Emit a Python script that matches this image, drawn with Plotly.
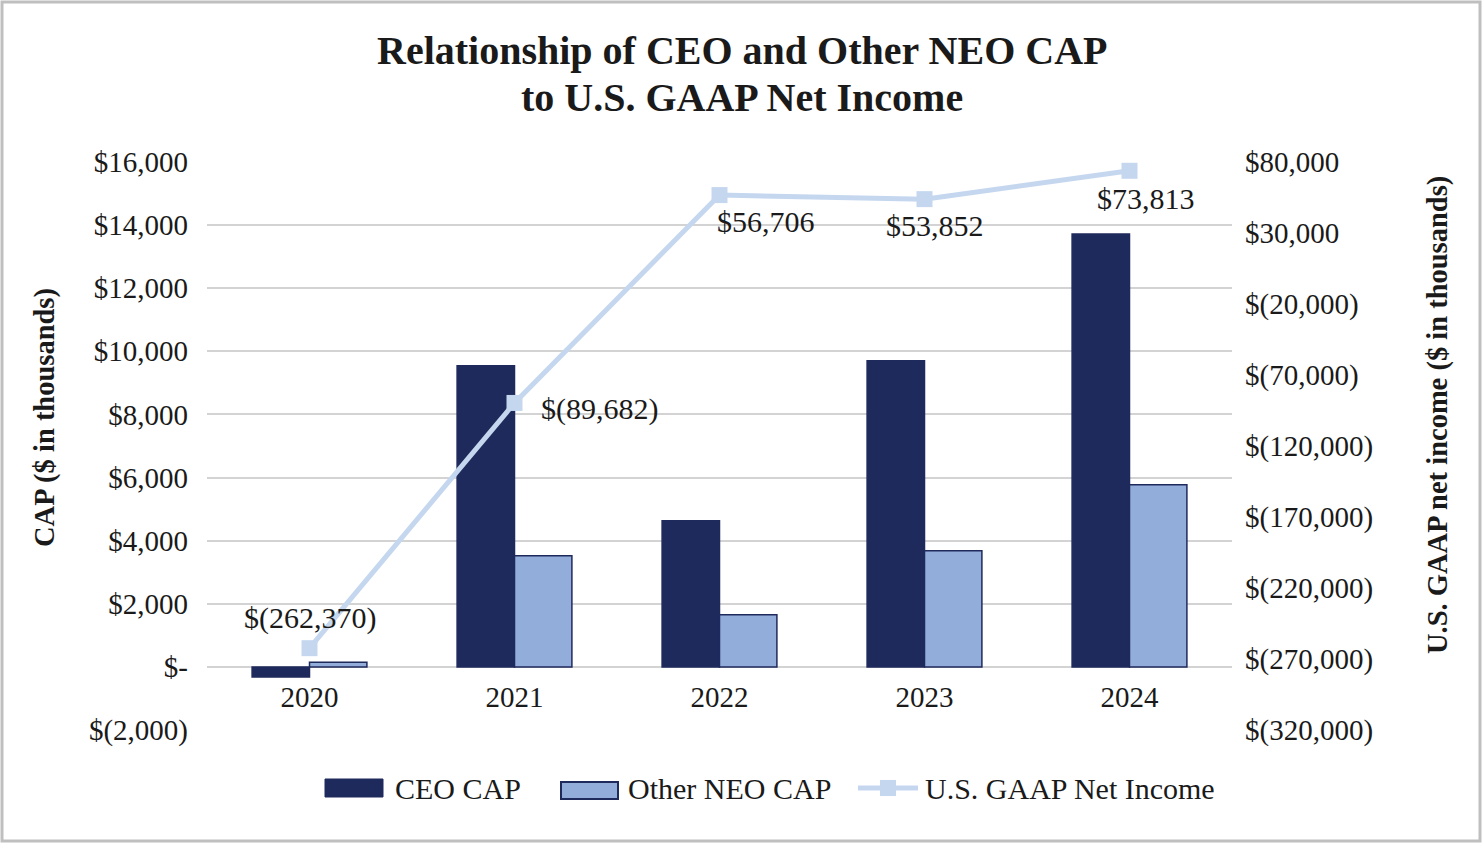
import plotly.graph_objects as go

years = ["2020", "2021", "2022", "2023", "2024"]
ceo_cap = [-320, 9540, 4630, 9700, 13720]
neo_cap = [150, 3520, 1650, 3680, 5770]
net_income = [-262370, -89682, 56706, 53852, 73813]
net_income_labels = ["$(262,370)", "$(89,682)", "$56,706", "$53,852", "$73,813"]
series_names = ["CEO CAP", "Other NEO CAP", "U.S. GAAP Net Income"]

left_ticks = [-2000, 0, 2000, 4000, 6000, 8000, 10000, 12000, 14000, 16000]
left_text = ["$(2,000)", "$-", "$2,000", "$4,000", "$6,000", "$8,000",
             "$10,000", "$12,000", "$14,000", "$16,000"]
right_ticks = [-320000, -270000, -220000, -170000, -120000, -70000, -20000, 30000, 80000]
right_text = ["$(320,000)", "$(270,000)", "$(220,000)", "$(170,000)", "$(120,000)",
              "$(70,000)", "$(20,000)", "$30,000", "$80,000"]

FONT = "Liberation Serif"
NAVY = "#1F2A5C"
MID = "#93ADDA"
LIGHT = "#C5D7EF"
TXT = "#1A1A1A"

# plot area in page pixels
PL, PR, PT, PB = 207, 1232, 162, 730
PW, PH = PR - PL, PB - PT


def px(x):
    return (x - PL) / PW


def py(y):
    return (PB - y) / PH


fig = go.Figure()
fig.add_trace(go.Bar(x=years, y=ceo_cap, name=series_names[0], showlegend=False,
                     marker=dict(color=NAVY, line=dict(color=NAVY, width=1.5))))
fig.add_trace(go.Bar(x=years, y=neo_cap, name=series_names[1], showlegend=False,
                     marker=dict(color=MID, line=dict(color=NAVY, width=1.5))))
fig.add_trace(go.Scatter(x=years, y=net_income, name=series_names[2], yaxis="y2",
                         mode="lines+markers", showlegend=False,
                         line=dict(color=LIGHT, width=5),
                         marker=dict(symbol="square", size=16, color=LIGHT)))

label_shifts = [(0, 30), (85, -6), (46, -26), (10, -26), (16, -28)]
for i, (v, t, (dx, dy)) in enumerate(zip(net_income, net_income_labels, label_shifts)):
    fig.add_annotation(x=i, y=v, xref="x", yref="y2", text=t, showarrow=False,
                       xshift=dx, yshift=dy, font=dict(family=FONT, size=30, color=TXT))

# title (two lines)
fig.add_annotation(x=px(742), y=py(50), xref="paper", yref="paper",
                   text="<b>Relationship of CEO and Other NEO CAP</b>",
                   showarrow=False, xanchor="center", yanchor="middle",
                   font=dict(family=FONT, size=40, color=TXT))
fig.add_annotation(x=px(742), y=py(98), xref="paper", yref="paper",
                   text="<b>to U.S. GAAP Net Income</b>",
                   showarrow=False, xanchor="center", yanchor="middle",
                   font=dict(family=FONT, size=40, color=TXT))
# axis titles
fig.add_annotation(x=px(45), y=py(418), xref="paper", yref="paper",
                   text="<b>CAP ($ in thousands)</b>", xanchor="center", yanchor="middle",
                   textangle=-90, showarrow=False, font=dict(family=FONT, size=28.5, color=TXT))
fig.add_annotation(x=px(1438), y=py(415), xref="paper", yref="paper",
                   text="<b>U.S. GAAP net income ($ in thousands)</b>",
                   xanchor="center", yanchor="middle",
                   textangle=-90, showarrow=False, font=dict(family=FONT, size=28.5, color=TXT))

# legend (drawn manually to match wide symbols)
legend_text_x = [393, 626, 923]
for name, lx in zip(series_names, legend_text_x):
    fig.add_annotation(x=px(lx), y=py(788), xref="paper", yref="paper", text=name,
                       xanchor="left", yanchor="middle", showarrow=False,
                       font=dict(family=FONT, size=30, color=TXT))

shapes = [
    dict(type="rect", xref="paper", yref="paper",
         x0=px(2), x1=px(1480), y0=py(841), y1=py(2),
         line=dict(color="#BFBFBF", width=3), fillcolor="rgba(0,0,0,0)", layer="below"),
    dict(type="rect", xref="paper", yref="paper", x0=px(325), x1=px(383), y0=py(797), y1=py(779),
         line=dict(color=NAVY, width=1), fillcolor=NAVY),
    dict(type="rect", xref="paper", yref="paper", x0=px(561), x1=px(618), y0=py(799), y1=py(782),
         line=dict(color=NAVY, width=2), fillcolor=MID),
    dict(type="line", xref="paper", yref="paper", x0=px(858), x1=px(918), y0=py(788), y1=py(788),
         line=dict(color=LIGHT, width=5)),
    dict(type="rect", xref="paper", yref="paper", x0=px(880), x1=px(896), y0=py(796), y1=py(780),
         line=dict(color=LIGHT, width=0), fillcolor=LIGHT),
]

fig.update_layout(
    width=1483, height=843,
    margin=dict(l=PL, r=1483 - PR, t=PT, b=843 - PB),
    paper_bgcolor="white", plot_bgcolor="white",
    font=dict(family=FONT, size=29, color=TXT),
    barmode="group", bargap=0.44, bargroupgap=0,
    showlegend=False,
    xaxis=dict(type="category", range=[-0.5, 4.5], anchor="free", position=py(667),
               showline=False, ticks="", showgrid=False, tickfont=dict(size=29),
               ticklabelstandoff=10),
    yaxis=dict(range=[-2000, 16000], tickvals=left_ticks, ticktext=left_text,
               showgrid=True, gridcolor="#D3D3D3", gridwidth=2, zeroline=False,
               showline=False, ticks="", ticklabelstandoff=18),
    yaxis2=dict(range=[-320000, 80000], tickvals=right_ticks, ticktext=right_text,
                overlaying="y", side="right", showgrid=False, zeroline=False,
                showline=False, ticks="", ticklabelstandoff=12),
    shapes=shapes,
)

fig.write_html("out.html", config={"displayModeBar": False},
               post_script="document.body.style.margin='0px';")
